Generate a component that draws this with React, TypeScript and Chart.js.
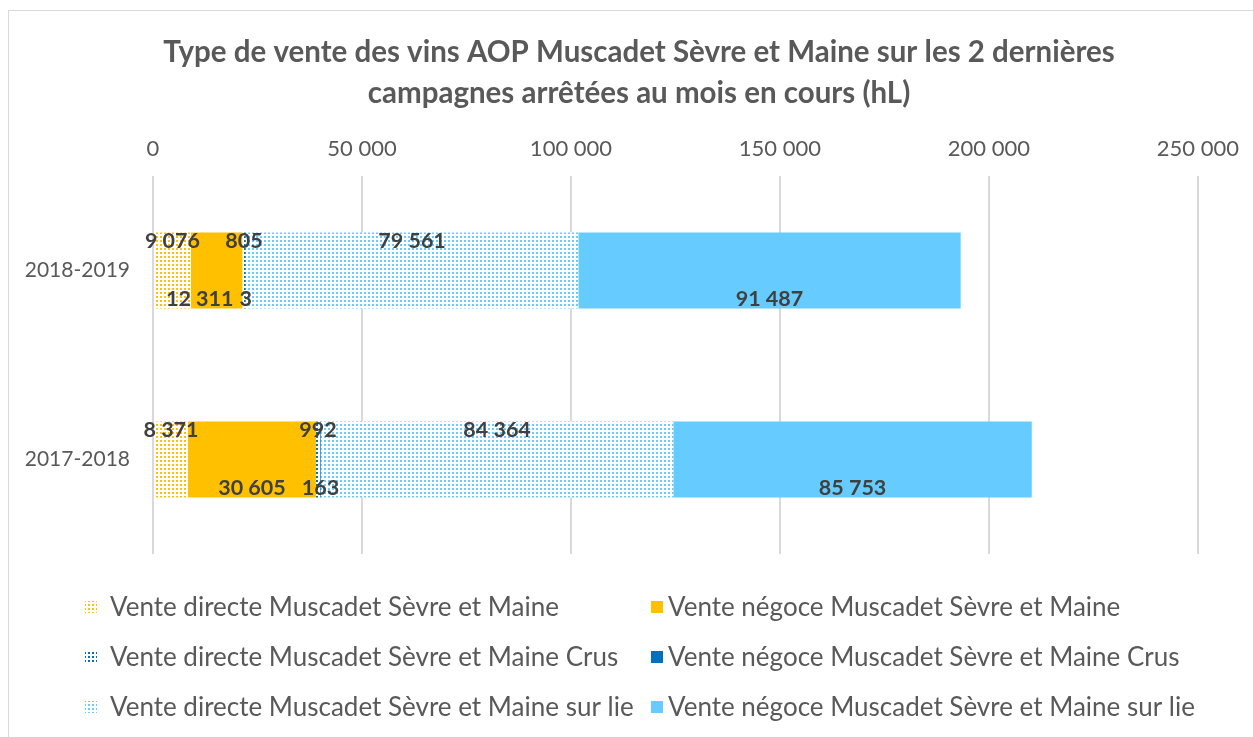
import React, { useEffect, useRef } from "react";
import { Chart, registerables } from "chart.js";

Chart.register(...registerables);

const categories = ["2018-2019", "2017-2018"];
const seriesLabels = [
  "Vente directe Muscadet Sèvre et Maine",
  "Vente négoce Muscadet Sèvre et Maine",
  "Vente directe Muscadet Sèvre et Maine Crus",
  "Vente négoce Muscadet Sèvre et Maine Crus",
  "Vente directe Muscadet Sèvre et Maine sur lie",
  "Vente négoce Muscadet Sèvre et Maine sur lie",
];
const directeMSM = [9076, 8371];
const negoceMSM = [12311, 30605];
const directeCrus = [805, 992];
const negoceCrus = [3, 163];
const directeSurLie = [79561, 84364];
const negoceSurLie = [91487, 85753];
const seriesColors = ["#FFC000", "#FFC000", "#0070C0", "#0070C0", "#66CCFF", "#66CCFF"];
const seriesPatterned = [true, false, true, false, true, false];
const xMin = 0;
const xMax = 250000;
const xStep = 50000;
const titleLines = [
  "Type de vente des vins AOP Muscadet Sèvre et Maine sur les 2 dernières",
  "campagnes arrêtées au mois en cours (hL)",
];

const fmt = (n: number) => String(n).replace(/\B(?=(\d{3})+(?!\d))/g, " ");

function makePattern(color: string): CanvasPattern | string {
  const tile = document.createElement("canvas");
  tile.width = 4;
  tile.height = 4;
  const c = tile.getContext("2d");
  if (!c) return color;
  c.fillStyle = "#ffffff";
  c.fillRect(0, 0, 4, 4);
  c.globalAlpha = 0.35;
  c.fillStyle = color;
  c.fillRect(0, 0, 4, 4);
  c.globalAlpha = 1;
  c.fillStyle = "#ffffff";
  c.fillRect(2, 0, 2, 4);
  c.fillRect(0, 2, 4, 2);
  c.fillStyle = color;
  c.fillRect(0, 0, 2, 2);
  const p = c.createPattern(tile, "repeat");
  return p || color;
}

const FONT = "Lato, 'Open Sans', sans-serif";
const GRAY = "#595959";

export default function App() {
  const ref = useRef<HTMLCanvasElement | null>(null);

  useEffect(() => {
    const canvas = ref.current;
    if (!canvas) return;
    const values = [directeMSM, negoceMSM, directeCrus, negoceCrus, directeSurLie, negoceSurLie];
    const fills = seriesColors.map((c, i) => (seriesPatterned[i] ? makePattern(c) : c));

    const datasets = seriesLabels.map((label, i) => ({
      label,
      data: values[i],
      backgroundColor: fills[i] as any,
      borderWidth: 0,
      barPercentage: 0.402,
      categoryPercentage: 1,
    }));

    const titlePlugin = {
      id: "customTitle",
      afterDraw(chart: any) {
        const ctx = chart.ctx;
        ctx.save();
        ctx.fillStyle = GRAY;
        ctx.font = `bold 29.5px ${FONT}`;
        ctx.textAlign = "center";
        ctx.textBaseline = "middle";
        ctx.fillText(titleLines[0], 639, 52);
        ctx.fillText(titleLines[1], 639, 93);
        ctx.restore();
      },
    };

    const labelPlugin = {
      id: "barLabels",
      afterDatasetsDraw(chart: any) {
        const ctx = chart.ctx;
        ctx.save();
        ctx.fillStyle = "#404040";
        ctx.font = `bold 21.5px ${FONT}`;
        ctx.textAlign = "center";
        ctx.textBaseline = "middle";
        const nCat = chart.data.labels.length;
        for (let j = 0; j < nCat; j++) {
          for (let row = 0; row < 2; row++) {
            const items: { text: string; cx: number; cy: number; w: number }[] = [];
            chart.data.datasets.forEach((ds: any, i: number) => {
              if (i % 2 !== row) return;
              const bar: any = chart.getDatasetMeta(i).data[j];
              const text = fmt(ds.data[j]);
              const cx = (bar.x + bar.base) / 2;
              const top = bar.y - bar.height / 2;
              const bottom = bar.y + bar.height / 2;
              const cy = row === 0 ? top + 9 : bottom - 9;
              items.push({ text, cx, cy, w: ctx.measureText(text).width });
            });
            // avoid overlaps by nudging earlier labels left
            for (let k = items.length - 2; k >= 0; k--) {
              const a = items[k];
              const b = items[k + 1];
              const overlap = a.cx + a.w / 2 + 6 - (b.cx - b.w / 2);
              if (overlap > 0) a.cx -= overlap;
            }
            items.forEach((it) => ctx.fillText(it.text, it.cx, it.cy));
          }
        }
        ctx.restore();
      },
    };

    const legendPlugin = {
      id: "customLegend",
      afterDraw(chart: any) {
        const ctx = chart.ctx;
        const markX = [85, 651];
        const textX = [110, 668];
        const rowY = [607, 657, 707];
        ctx.save();
        ctx.font = `26px ${FONT}`;
        ctx.textBaseline = "middle";
        ctx.textAlign = "left";
        chart.data.datasets.forEach((ds: any, i: number) => {
          const col = i % 2;
          const y = rowY[Math.floor(i / 2)];
          ctx.fillStyle = ds.backgroundColor;
          ctx.fillRect(markX[col], y - 6, 12, 12);
          ctx.fillStyle = GRAY;
          ctx.fillText(ds.label, textX[col], y + 1);
        });
        ctx.restore();
      },
    };

    const chart = new Chart(canvas, {
      type: "bar",
      data: { labels: categories, datasets },
      plugins: [titlePlugin, labelPlugin, legendPlugin],
      options: {
        indexAxis: "y",
        animation: false,
        responsive: false,
        maintainAspectRatio: false,
        layout: { padding: { left: 0, right: 55, top: 0, bottom: 183 } },
        plugins: {
          legend: { display: false },
          title: { display: false },
          tooltip: { enabled: false },
        },
        scales: {
          x: {
            type: "linear",
            position: "top",
            stacked: true,
            min: xMin,
            max: xMax,
            ticks: {
              stepSize: xStep,
              color: GRAY,
              font: { family: FONT, size: 22 },
              padding: 14,
              callback: (v: any) => fmt(Number(v)),
            },
            grid: { color: "#d9d9d9", lineWidth: 2, drawTicks: false },
            border: { display: false },
            afterFit: (scale: any) => {
              scale.height = 176;
            },
          },
          y: {
            stacked: true,
            ticks: {
              color: GRAY,
              font: { family: FONT, size: 21 },
              padding: 15,
            },
            grid: { display: false },
            border: { display: false },
            afterFit: (scale: any) => {
              scale.width = 153;
            },
          },
        },
      } as any,
    });
    return () => chart.destroy();
  }, []);

  return (
    <div style={{ position: "relative", width: 1253, height: 737, overflow: "hidden", background: "#fff" }}>
      <style>{`html,body{margin:0;padding:0;overflow:hidden;background:#fff}`}</style>
      <div
        style={{
          position: "absolute",
          left: 8,
          top: 10,
          width: 1262,
          height: 740,
          border: "1px solid #d9d9d9",
          boxSizing: "border-box",
        }}
      />
      <canvas
        ref={ref}
        width={1253}
        height={737}
        style={{ position: "absolute", left: 0, top: 0, width: 1253, height: 737 }}
      />
    </div>
  );
}
